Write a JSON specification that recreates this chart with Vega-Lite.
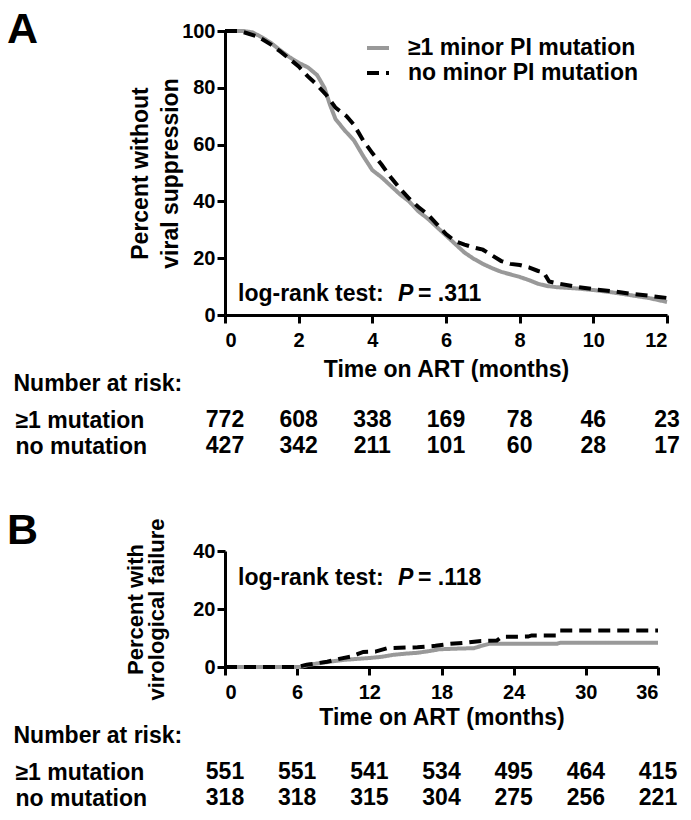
{
  "$schema": "https://vega.github.io/schema/vega-lite/v6.json",
  "autosize": {"type": "pad"},
  "padding": {"left": 7, "top": 9, "right": 4, "bottom": 4},
  "background": "white",
  "config": {
    "font": "Liberation Sans",
    "view": {"stroke": null},
    "axis": {"domainColor": "black", "domainWidth": 3, "tickColor": "black", "tickWidth": 3, "tickSize": 8, "labelFont": "Liberation Sans", "labelFontWeight": "bold", "labelFontSize": 20, "labelColor": "black", "titleFont": "Liberation Sans", "titleFontWeight": "bold", "titleFontSize": 23, "titleColor": "black", "grid": false},
    "title": {"font": "Liberation Sans", "fontWeight": "bold", "fontSize": 43, "color": "black", "anchor": "start", "frame": "group"},
    "text": {"font": "Liberation Sans", "fontWeight": "bold", "fontSize": 23, "color": "black"}
  },
  "datasets": {
    "kmA": [
      {"group": "≥1 minor PI mutation", "t": 0, "pct": 100},
      {"group": "≥1 minor PI mutation", "t": 0.5, "pct": 100},
      {"group": "≥1 minor PI mutation", "t": 0.75, "pct": 99.5},
      {"group": "≥1 minor PI mutation", "t": 1.0, "pct": 97.8},
      {"group": "≥1 minor PI mutation", "t": 1.25, "pct": 95.8},
      {"group": "≥1 minor PI mutation", "t": 1.5, "pct": 93.2},
      {"group": "≥1 minor PI mutation", "t": 1.75, "pct": 90.8},
      {"group": "≥1 minor PI mutation", "t": 2.0, "pct": 88.8},
      {"group": "≥1 minor PI mutation", "t": 2.25, "pct": 87.2},
      {"group": "≥1 minor PI mutation", "t": 2.5, "pct": 84.5},
      {"group": "≥1 minor PI mutation", "t": 2.7, "pct": 80},
      {"group": "≥1 minor PI mutation", "t": 2.85, "pct": 74},
      {"group": "≥1 minor PI mutation", "t": 3.0, "pct": 69},
      {"group": "≥1 minor PI mutation", "t": 3.25, "pct": 65},
      {"group": "≥1 minor PI mutation", "t": 3.5, "pct": 61.5},
      {"group": "≥1 minor PI mutation", "t": 3.75, "pct": 56},
      {"group": "≥1 minor PI mutation", "t": 4.0, "pct": 51},
      {"group": "≥1 minor PI mutation", "t": 4.25, "pct": 48.5},
      {"group": "≥1 minor PI mutation", "t": 4.5, "pct": 45.5},
      {"group": "≥1 minor PI mutation", "t": 4.75, "pct": 42.5},
      {"group": "≥1 minor PI mutation", "t": 5.0, "pct": 40},
      {"group": "≥1 minor PI mutation", "t": 5.25, "pct": 36.5},
      {"group": "≥1 minor PI mutation", "t": 5.5, "pct": 34},
      {"group": "≥1 minor PI mutation", "t": 5.75, "pct": 31},
      {"group": "≥1 minor PI mutation", "t": 6.0, "pct": 28},
      {"group": "≥1 minor PI mutation", "t": 6.25, "pct": 25},
      {"group": "≥1 minor PI mutation", "t": 6.5, "pct": 22},
      {"group": "≥1 minor PI mutation", "t": 6.75, "pct": 19.8},
      {"group": "≥1 minor PI mutation", "t": 7.0, "pct": 18},
      {"group": "≥1 minor PI mutation", "t": 7.25, "pct": 16.5},
      {"group": "≥1 minor PI mutation", "t": 7.5, "pct": 15.2},
      {"group": "≥1 minor PI mutation", "t": 7.75, "pct": 14.3},
      {"group": "≥1 minor PI mutation", "t": 8.0, "pct": 13.4},
      {"group": "≥1 minor PI mutation", "t": 8.25, "pct": 12.3},
      {"group": "≥1 minor PI mutation", "t": 8.5, "pct": 11},
      {"group": "≥1 minor PI mutation", "t": 8.75, "pct": 10.2},
      {"group": "≥1 minor PI mutation", "t": 9.0, "pct": 9.8},
      {"group": "≥1 minor PI mutation", "t": 9.5, "pct": 9.4},
      {"group": "≥1 minor PI mutation", "t": 10.0, "pct": 8.8},
      {"group": "≥1 minor PI mutation", "t": 10.5, "pct": 8},
      {"group": "≥1 minor PI mutation", "t": 11.0, "pct": 7},
      {"group": "≥1 minor PI mutation", "t": 11.5, "pct": 6},
      {"group": "≥1 minor PI mutation", "t": 12.0, "pct": 4.6},
      {"group": "no minor PI mutation", "t": 0, "pct": 100},
      {"group": "no minor PI mutation", "t": 0.4, "pct": 100},
      {"group": "no minor PI mutation", "t": 0.6, "pct": 99.2},
      {"group": "no minor PI mutation", "t": 0.9, "pct": 98},
      {"group": "no minor PI mutation", "t": 1.25, "pct": 95.2},
      {"group": "no minor PI mutation", "t": 1.5, "pct": 92.8},
      {"group": "no minor PI mutation", "t": 1.75, "pct": 90.2},
      {"group": "no minor PI mutation", "t": 2.0, "pct": 87.5},
      {"group": "no minor PI mutation", "t": 2.25, "pct": 84},
      {"group": "no minor PI mutation", "t": 2.5, "pct": 81},
      {"group": "no minor PI mutation", "t": 2.75, "pct": 77.5},
      {"group": "no minor PI mutation", "t": 3.0, "pct": 73},
      {"group": "no minor PI mutation", "t": 3.1, "pct": 72},
      {"group": "no minor PI mutation", "t": 3.3, "pct": 70},
      {"group": "no minor PI mutation", "t": 3.5, "pct": 67},
      {"group": "no minor PI mutation", "t": 3.75, "pct": 61.5},
      {"group": "no minor PI mutation", "t": 4.0, "pct": 57},
      {"group": "no minor PI mutation", "t": 4.25, "pct": 53},
      {"group": "no minor PI mutation", "t": 4.5, "pct": 48.5},
      {"group": "no minor PI mutation", "t": 4.75, "pct": 44.5},
      {"group": "no minor PI mutation", "t": 5.0, "pct": 41},
      {"group": "no minor PI mutation", "t": 5.25, "pct": 38},
      {"group": "no minor PI mutation", "t": 5.5, "pct": 35.5},
      {"group": "no minor PI mutation", "t": 5.75, "pct": 32},
      {"group": "no minor PI mutation", "t": 6.0, "pct": 28.5},
      {"group": "no minor PI mutation", "t": 6.25, "pct": 26},
      {"group": "no minor PI mutation", "t": 6.5, "pct": 24.8},
      {"group": "no minor PI mutation", "t": 6.75, "pct": 23.8},
      {"group": "no minor PI mutation", "t": 7.0, "pct": 23},
      {"group": "no minor PI mutation", "t": 7.25, "pct": 21},
      {"group": "no minor PI mutation", "t": 7.5, "pct": 19},
      {"group": "no minor PI mutation", "t": 7.75, "pct": 18},
      {"group": "no minor PI mutation", "t": 8.0, "pct": 17.6},
      {"group": "no minor PI mutation", "t": 8.25, "pct": 16.8},
      {"group": "no minor PI mutation", "t": 8.5, "pct": 15.5},
      {"group": "no minor PI mutation", "t": 8.65, "pct": 15},
      {"group": "no minor PI mutation", "t": 8.8, "pct": 11.8},
      {"group": "no minor PI mutation", "t": 9.0, "pct": 11.2},
      {"group": "no minor PI mutation", "t": 9.5, "pct": 10},
      {"group": "no minor PI mutation", "t": 10.0, "pct": 9.1},
      {"group": "no minor PI mutation", "t": 10.5, "pct": 8.4},
      {"group": "no minor PI mutation", "t": 11.0, "pct": 7.5},
      {"group": "no minor PI mutation", "t": 11.5, "pct": 6.8},
      {"group": "no minor PI mutation", "t": 12.0, "pct": 6}
    ],
    "riskA": [
      {"group": "≥1 mutation", "t": 0, "n": 772},
      {"group": "≥1 mutation", "t": 2, "n": 608},
      {"group": "≥1 mutation", "t": 4, "n": 338},
      {"group": "≥1 mutation", "t": 6, "n": 169},
      {"group": "≥1 mutation", "t": 8, "n": 78},
      {"group": "≥1 mutation", "t": 10, "n": 46},
      {"group": "≥1 mutation", "t": 12, "n": 23},
      {"group": "no mutation", "t": 0, "n": 427},
      {"group": "no mutation", "t": 2, "n": 342},
      {"group": "no mutation", "t": 4, "n": 211},
      {"group": "no mutation", "t": 6, "n": 101},
      {"group": "no mutation", "t": 8, "n": 60},
      {"group": "no mutation", "t": 10, "n": 28},
      {"group": "no mutation", "t": 12, "n": 17}
    ],
    "kmB": [
      {"group": "≥1 minor PI mutation", "t": 0, "pct": 0},
      {"group": "≥1 minor PI mutation", "t": 6.2, "pct": 0},
      {"group": "≥1 minor PI mutation", "t": 7, "pct": 0.8},
      {"group": "≥1 minor PI mutation", "t": 8, "pct": 1.4},
      {"group": "≥1 minor PI mutation", "t": 9, "pct": 2},
      {"group": "≥1 minor PI mutation", "t": 10, "pct": 2.5},
      {"group": "≥1 minor PI mutation", "t": 11, "pct": 2.8},
      {"group": "≥1 minor PI mutation", "t": 12, "pct": 3.1},
      {"group": "≥1 minor PI mutation", "t": 13, "pct": 3.5},
      {"group": "≥1 minor PI mutation", "t": 14, "pct": 4.2},
      {"group": "≥1 minor PI mutation", "t": 15, "pct": 4.6},
      {"group": "≥1 minor PI mutation", "t": 16, "pct": 4.9},
      {"group": "≥1 minor PI mutation", "t": 17, "pct": 5.5},
      {"group": "≥1 minor PI mutation", "t": 17.8, "pct": 6.1},
      {"group": "≥1 minor PI mutation", "t": 19, "pct": 6.3},
      {"group": "≥1 minor PI mutation", "t": 20.7, "pct": 6.5},
      {"group": "≥1 minor PI mutation", "t": 21.5, "pct": 7.5},
      {"group": "≥1 minor PI mutation", "t": 22, "pct": 8},
      {"group": "≥1 minor PI mutation", "t": 27.6, "pct": 8},
      {"group": "≥1 minor PI mutation", "t": 27.9, "pct": 8.4},
      {"group": "≥1 minor PI mutation", "t": 36, "pct": 8.4},
      {"group": "no minor PI mutation", "t": 0, "pct": 0},
      {"group": "no minor PI mutation", "t": 6, "pct": 0},
      {"group": "no minor PI mutation", "t": 6.8, "pct": 0.8},
      {"group": "no minor PI mutation", "t": 7.5, "pct": 1.2},
      {"group": "no minor PI mutation", "t": 8.5, "pct": 1.8},
      {"group": "no minor PI mutation", "t": 9.5, "pct": 2.8},
      {"group": "no minor PI mutation", "t": 10.5, "pct": 3.6},
      {"group": "no minor PI mutation", "t": 11, "pct": 4.4},
      {"group": "no minor PI mutation", "t": 11.5, "pct": 5.2},
      {"group": "no minor PI mutation", "t": 12.5, "pct": 5.3},
      {"group": "no minor PI mutation", "t": 13.5, "pct": 6.5},
      {"group": "no minor PI mutation", "t": 16, "pct": 6.8},
      {"group": "no minor PI mutation", "t": 17.5, "pct": 7.3},
      {"group": "no minor PI mutation", "t": 18.5, "pct": 7.9},
      {"group": "no minor PI mutation", "t": 20, "pct": 8.4},
      {"group": "no minor PI mutation", "t": 21.3, "pct": 9},
      {"group": "no minor PI mutation", "t": 22.6, "pct": 9.1},
      {"group": "no minor PI mutation", "t": 23, "pct": 10.4},
      {"group": "no minor PI mutation", "t": 25.2, "pct": 10.5},
      {"group": "no minor PI mutation", "t": 25.5, "pct": 10.9},
      {"group": "no minor PI mutation", "t": 27.5, "pct": 10.9},
      {"group": "no minor PI mutation", "t": 27.8, "pct": 12.6},
      {"group": "no minor PI mutation", "t": 36, "pct": 12.6}
    ],
    "riskB": [
      {"group": "≥1 mutation", "t": 0, "n": 551},
      {"group": "≥1 mutation", "t": 6, "n": 551},
      {"group": "≥1 mutation", "t": 12, "n": 541},
      {"group": "≥1 mutation", "t": 18, "n": 534},
      {"group": "≥1 mutation", "t": 24, "n": 495},
      {"group": "≥1 mutation", "t": 30, "n": 464},
      {"group": "≥1 mutation", "t": 36, "n": 415},
      {"group": "no mutation", "t": 0, "n": 318},
      {"group": "no mutation", "t": 6, "n": 318},
      {"group": "no mutation", "t": 12, "n": 315},
      {"group": "no mutation", "t": 18, "n": 304},
      {"group": "no mutation", "t": 24, "n": 275},
      {"group": "no mutation", "t": 30, "n": 256},
      {"group": "no mutation", "t": 36, "n": 221}
    ]
  },
  "spacing": 92,
  "bounds": "flush",
  "vconcat": [
    {
      "width": 442,
      "height": 284,
      "title": {"text": "A", "dx": -218, "dy": 35},
      "layer": [
        {
          "data": {"name": "kmA"},
          "mark": {"type": "line", "strokeWidth": 4},
          "encoding": {
            "x": {"field": "t", "type": "quantitative", "scale": {"domain": [0, 12], "nice": false},
              "axis": {"values": [0, 2, 4, 6, 8, 10, 12], "title": "Time on ART (months)", "titleX": 221, "titleY": 61, "titleBaseline": "alphabetic", "titleAlign": "center", "labelPadding": 7}},
            "y": {"field": "pct", "type": "quantitative", "scale": {"domain": [0, 100], "nice": false},
              "axis": {"values": [0, 20, 40, 60, 80, 100], "title": ["Percent without", "viral suppression"], "titleX": -78, "titleY": 142, "titleBaseline": "alphabetic", "titleAlign": "center", "titleAngle": -90, "titleLineHeight": 30, "labelPadding": 2}},
            "color": {"field": "group", "type": "nominal",
              "scale": {"domain": ["≥1 minor PI mutation", "no minor PI mutation"], "range": ["#999999", "#000000"]},
              "legend": {"title": null, "orient": "none", "legendX": 140, "legendY": 4, "symbolType": "stroke", "symbolSize": 484, "symbolStrokeWidth": 4, "labelFontSize": 23, "labelFont": "Liberation Sans", "labelFontWeight": "bold", "labelColor": "black", "labelOffset": 17, "rowPadding": 0, "labelLimit": 400}},
            "strokeDash": {"field": "group", "type": "nominal",
              "scale": {"domain": ["≥1 minor PI mutation", "no minor PI mutation"], "range": [[1, 0], [12, 7]]},
              "legend": {"title": null, "orient": "none", "legendX": 140, "legendY": 4, "symbolType": "stroke", "symbolSize": 484, "symbolStrokeWidth": 4, "labelFontSize": 23, "labelFont": "Liberation Sans", "labelFontWeight": "bold", "labelColor": "black", "labelOffset": 17, "rowPadding": 0, "labelLimit": 400}}
          }
        },
        {
          "data": {"values": [{}]},
          "mark": {"type": "text", "text": "log-rank test:", "align": "left", "baseline": "middle"},
          "encoding": {"x": {"datum": 0.353, "type": "quantitative"}, "y": {"datum": 7.3, "type": "quantitative"}}
        },
        {
          "data": {"values": [{}]},
          "mark": {"type": "text", "text": "P", "align": "left", "baseline": "middle", "fontStyle": "italic"},
          "encoding": {"x": {"datum": 4.697, "type": "quantitative"}, "y": {"datum": 7.3, "type": "quantitative"}}
        },
        {
          "data": {"values": [{}]},
          "mark": {"type": "text", "text": "= .311", "align": "left", "baseline": "middle"},
          "encoding": {"x": {"datum": 5.24, "type": "quantitative"}, "y": {"datum": 7.3, "type": "quantitative"}}
        }
      ]
    },
    {
      "width": 442,
      "height": 52,
      "data": {"name": "riskA"},
      "mark": {"type": "text", "baseline": "middle"},
      "encoding": {
        "x": {"field": "t", "type": "quantitative", "scale": {"domain": [0, 12], "nice": false}, "axis": null},
        "y": {"field": "group", "type": "nominal", "sort": ["≥1 mutation", "no mutation"], "scale": {"type": "point", "padding": 0.5},
          "axis": {"title": "Number at risk:", "titleAngle": 0, "titleAlign": "left", "titleBaseline": "middle", "titleX": -212, "titleY": -24, "domain": false, "ticks": false, "tickSize": 0, "labelPadding": 210, "labelAlign": "left", "labelBaseline": "middle", "labelFontSize": 23, "labelLimit": 300, "labelExpr": "datum.value == 'no mutation' ? '\u00a0no mutation' : datum.value"}},
        "text": {"field": "n", "type": "nominal"}
      }
    },
    {
      "width": 433,
      "height": 116,
      "title": {"text": "B", "dx": -218, "dy": 39},
      "layer": [
        {
          "data": {"name": "kmB"},
          "mark": {"type": "line", "strokeWidth": 4},
          "encoding": {
            "x": {"field": "t", "type": "quantitative", "scale": {"domain": [0, 36], "nice": false},
              "axis": {"values": [0, 6, 12, 18, 24, 30, 36], "title": "Time on ART (months)", "titleX": 216.5, "titleY": 57, "titleBaseline": "alphabetic", "titleAlign": "center", "labelPadding": 7}},
            "y": {"field": "pct", "type": "quantitative", "scale": {"domain": [0, 40], "nice": false},
              "axis": {"values": [0, 20, 40], "title": ["Percent with", "virological failure"], "titleX": -83, "titleY": 58, "titleBaseline": "alphabetic", "titleAlign": "center", "titleAngle": -90, "titleLineHeight": 21, "titleFontSize": 22, "labelPadding": 2}},
            "color": {"field": "group", "type": "nominal",
              "scale": {"domain": ["≥1 minor PI mutation", "no minor PI mutation"], "range": ["#999999", "#000000"]}, "legend": null},
            "strokeDash": {"field": "group", "type": "nominal",
              "scale": {"domain": ["≥1 minor PI mutation", "no minor PI mutation"], "range": [[1, 0], [16, 8]]}, "legend": null}
          }
        },
        {
          "data": {"values": [{}]},
          "mark": {"type": "text", "text": "log-rank test:", "align": "left", "baseline": "middle"},
          "encoding": {"x": {"datum": 1.081, "type": "quantitative"}, "y": {"datum": 30.6, "type": "quantitative"}}
        },
        {
          "data": {"values": [{}]},
          "mark": {"type": "text", "text": "P", "align": "left", "baseline": "middle", "fontStyle": "italic"},
          "encoding": {"x": {"datum": 14.38, "type": "quantitative"}, "y": {"datum": 30.6, "type": "quantitative"}}
        },
        {
          "data": {"values": [{}]},
          "mark": {"type": "text", "text": "= .118", "align": "left", "baseline": "middle"},
          "encoding": {"x": {"datum": 16.05, "type": "quantitative"}, "y": {"datum": 30.6, "type": "quantitative"}}
        }
      ]
    },
    {
      "width": 433,
      "height": 52,
      "data": {"name": "riskB"},
      "mark": {"type": "text", "baseline": "middle"},
      "encoding": {
        "x": {"field": "t", "type": "quantitative", "scale": {"domain": [0, 36], "nice": false}, "axis": null},
        "y": {"field": "group", "type": "nominal", "sort": ["≥1 mutation", "no mutation"], "scale": {"type": "point", "padding": 0.5},
          "axis": {"title": "Number at risk:", "titleAngle": 0, "titleAlign": "left", "titleBaseline": "middle", "titleX": -212, "titleY": -24, "domain": false, "ticks": false, "tickSize": 0, "labelPadding": 210, "labelAlign": "left", "labelBaseline": "middle", "labelFontSize": 23, "labelLimit": 300, "labelExpr": "datum.value == 'no mutation' ? '\u00a0no mutation' : datum.value"}},
        "text": {"field": "n", "type": "nominal"}
      }
    }
  ]
}
